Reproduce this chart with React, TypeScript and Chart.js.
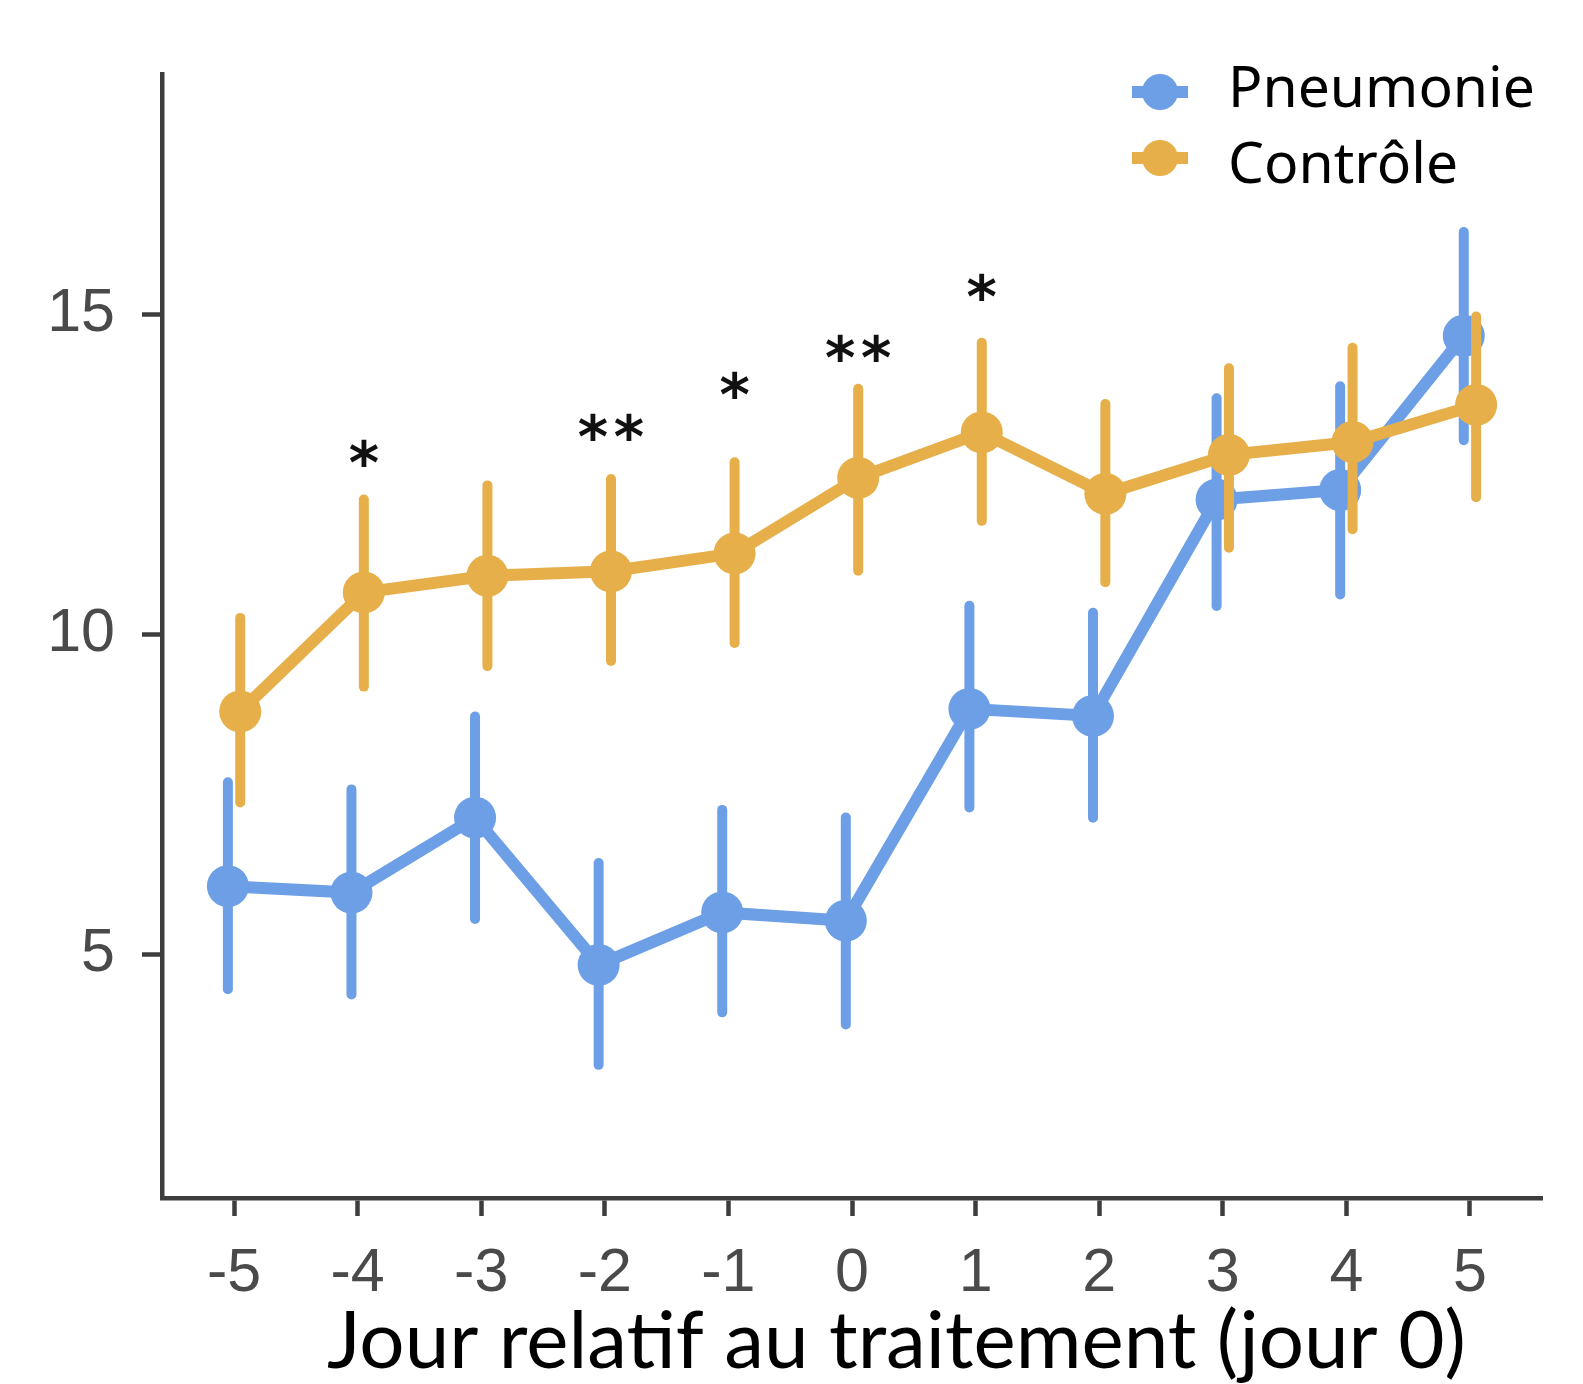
import React, { useEffect, useRef } from 'react';
import { Chart, registerables } from 'chart.js';

Chart.register(...registerables);

// ---- data ----
const DAYS = [-5, -4, -3, -2, -1, 0, 1, 2, 3, 4, 5];
const PNEU_MEAN = [6.06, 5.96, 7.13, 4.83, 5.65, 5.52, 8.83, 8.72, 12.1, 12.25, 14.66];
const PNEU_LOW = [4.37, 4.29, 5.47, 3.19, 4.01, 3.82, 7.21, 7.05, 10.36, 10.54, 12.95];
const PNEU_HIGH = [7.76, 7.65, 8.79, 6.5, 7.33, 7.21, 10.52, 10.41, 13.76, 13.95, 16.36];
const CTRL_MEAN = [8.79, 10.65, 10.91, 10.98, 11.26, 12.44, 13.15, 12.19, 12.8, 13.0, 13.58];
const CTRL_LOW = [7.29, 9.1, 9.42, 9.5, 9.78, 10.91, 11.69, 10.73, 11.27, 11.56, 12.06];
const CTRL_HIGH = [10.33, 12.18, 12.4, 12.5, 12.76, 13.91, 14.63, 13.67, 14.23, 14.55, 15.04];
const Y_TICKS = [5, 10, 15];
const SIG_DAYS = [-4, -2, -1, 0, 1];
const SIG_MARKS = ['*', '**', '*', '**', '*'];
const SIG_Y = [12.83, 13.23, 13.89, 14.47, 15.42];
const SERIES_LABELS = ['Pneumonie', 'Contrôle'];
const X_TITLE = 'Jour relatif au traitement (jour 0)';

// ---- style ----
const BLUE = '#6c9fe6';
const ORANGE = '#e6af49';
const AXIS = '#3d3d3d';
const DODGE = 0.05;
const BAR_W = 10;

const LOWS = [PNEU_LOW, CTRL_LOW];
const HIGHS = [PNEU_HIGH, CTRL_HIGH];
const OFFS = [-DODGE, DODGE];
const COLORS = [BLUE, ORANGE];

const errorBarPlugin = {
  id: 'errorBars',
  afterDatasetDraw(chart: any, args: any) {
    const i = args.index;
    const { ctx, scales } = chart;
    const xs = scales.x;
    const ys = scales.y;
    ctx.save();
    ctx.strokeStyle = COLORS[i];
    ctx.lineWidth = BAR_W;
    ctx.lineCap = 'round';
    DAYS.forEach((d, k) => {
      const x = xs.getPixelForValue(d + OFFS[i]);
      const yTop = ys.getPixelForValue(HIGHS[i][k]) + BAR_W / 2;
      const yBot = ys.getPixelForValue(LOWS[i][k]) - BAR_W / 2;
      ctx.beginPath();
      ctx.moveTo(x, yTop);
      ctx.lineTo(x, yBot);
      ctx.stroke();
    });
    ctx.restore();
  },
};

const sigPlugin = {
  id: 'sigMarks',
  afterDatasetsDraw(chart: any) {
    const { ctx, scales } = chart;
    ctx.save();
    ctx.fillStyle = '#111';
    ctx.font = 'bold 58px "DejaVu Sans"';
    ctx.textAlign = 'center';
    ctx.textBaseline = 'alphabetic';
    const m = ctx.measureText('*');
    const asc = m.actualBoundingBoxAscent;
    const desc = m.actualBoundingBoxDescent;
    SIG_DAYS.forEach((d, k) => {
      const cx = scales.x.getPixelForValue(d + DODGE);
      const cy = scales.y.getPixelForValue(SIG_Y[k]);
      const n = SIG_MARKS[k].length;
      for (let j = 0; j < n; j++) {
        const x = cx + (j - (n - 1) / 2) * 36;
        ctx.fillText('*', x, cy + (asc - desc) / 2);
      }
    });
    ctx.restore();
  },
};

const legendPlugin = {
  id: 'customLegend',
  afterDraw(chart: any) {
    const { ctx } = chart;
    const cx = 1160;
    const rowY = [92, 158];
    const baseY = [107, 183];
    ctx.save();
    SERIES_LABELS.forEach((lab, i) => {
      ctx.strokeStyle = COLORS[i];
      ctx.fillStyle = COLORS[i];
      ctx.lineWidth = 12;
      ctx.beginPath();
      ctx.moveTo(cx - 28, rowY[i]);
      ctx.lineTo(cx + 28, rowY[i]);
      ctx.stroke();
      ctx.beginPath();
      ctx.arc(cx, rowY[i], 18, 0, Math.PI * 2);
      ctx.fill();
      ctx.fillStyle = '#000';
      ctx.font = '57px "Noto Sans"';
      ctx.textAlign = 'left';
      ctx.textBaseline = 'alphabetic';
      ctx.fillText(lab, 1228, baseY[i]);
    });
    ctx.restore();
  },
};

const xTitlePlugin = {
  id: 'xTitle',
  afterDraw(chart: any) {
    const { ctx } = chart;
    ctx.save();
    ctx.font = '80px Lato';
    const w = ctx.measureText(X_TITLE).width;
    const size = (80 * 1139) / w;
    ctx.font = `${size}px Lato`;
    ctx.fillStyle = '#000';
    ctx.textAlign = 'left';
    ctx.textBaseline = 'alphabetic';
    ctx.fillText(X_TITLE, 327, 1368);
    ctx.restore();
  },
};

export default function App() {
  const ref = useRef<HTMLCanvasElement>(null);
  useEffect(() => {
    if (!ref.current) return;
    const mk = (means: number[], off: number) => DAYS.map((d, k) => ({ x: d + off, y: means[k] }));
    const chart = new Chart(ref.current, {
      type: 'line',
      data: {
        datasets: [
          {
            label: SERIES_LABELS[0],
            data: mk(PNEU_MEAN, -DODGE),
            borderColor: BLUE,
            backgroundColor: BLUE,
            borderWidth: 12,
            pointRadius: 21,
            pointBorderWidth: 0,
            pointBackgroundColor: BLUE,
            order: 2,
          },
          {
            label: SERIES_LABELS[1],
            data: mk(CTRL_MEAN, DODGE),
            borderColor: ORANGE,
            backgroundColor: ORANGE,
            borderWidth: 12,
            pointRadius: 21,
            pointBorderWidth: 0,
            pointBackgroundColor: ORANGE,
            order: 1,
          },
        ],
      },
      options: {
        responsive: false,
        animation: false,
        devicePixelRatio: 1,
        layout: { padding: { top: 74, right: 41, left: 0, bottom: 0 } },
        plugins: { legend: { display: false }, tooltip: { enabled: false } },
        scales: {
          x: {
            type: 'linear',
            min: -5.583,
            max: 5.583,
            afterBuildTicks: (s: any) => {
              s.ticks = DAYS.map((v) => ({ value: v }));
            },
            afterFit: (s: any) => {
              s.height = 186;
            },
            ticks: {
              color: '#4a4a4a',
              font: { family: '"Liberation Sans"', size: 61 },
              padding: 22,
              maxRotation: 0,
              autoSkip: false,
              callback: (v: any) => String(v),
            },
            grid: {
              drawOnChartArea: false,
              drawTicks: true,
              tickLength: 18,
              tickWidth: 4.5,
              tickColor: AXIS,
            },
            border: { display: true, color: AXIS, width: 4.5 },
          },
          y: {
            type: 'linear',
            min: 1.1875,
            max: 18.75,
            afterBuildTicks: (s: any) => {
              s.ticks = Y_TICKS.map((v) => ({ value: v }));
            },
            afterFit: (s: any) => {
              s.width = 162;
            },
            ticks: {
              color: '#4a4a4a',
              font: { family: '"Liberation Sans"', size: 61 },
              padding: 27,
              callback: (v: any) => String(v),
            },
            grid: {
              drawOnChartArea: false,
              drawTicks: true,
              tickLength: 20,
              tickWidth: 4.5,
              tickColor: AXIS,
            },
            border: { display: true, color: AXIS, width: 4.5 },
          },
        },
      },
      plugins: [errorBarPlugin, sigPlugin, legendPlugin, xTitlePlugin],
    } as any);
    return () => chart.destroy();
  }, []);
  return (
    <div style={{ position: 'absolute', left: 0, top: 0, width: 1583, height: 1384, background: '#fff' }}>
      <canvas ref={ref} width={1583} height={1384} style={{ display: 'block' }} />
    </div>
  );
}
